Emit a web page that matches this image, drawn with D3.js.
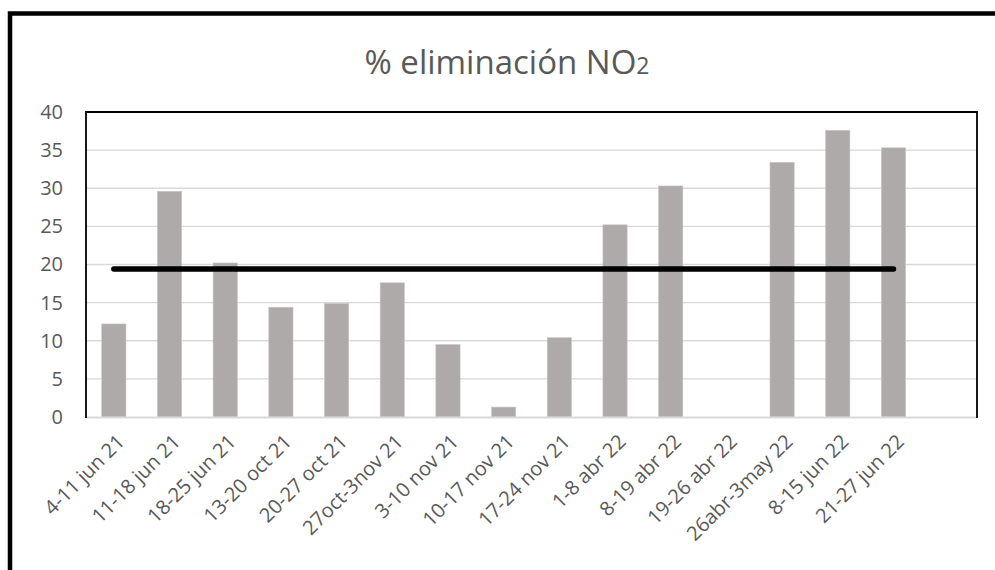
<!DOCTYPE html>
<html>
<head>
<meta charset="utf-8">
<script src="https://cdn.jsdelivr.net/npm/d3@7"></script>
<style>
  html, body { margin: 0; padding: 0; background: #fff; }
  svg { display: block; }
  text { font-family: "Open Sans", "Noto Sans", sans-serif; fill: #595959; }
</style>
</head>
<body>
<svg id="chart" width="995" height="570"></svg>
<script>
// Weekly sampling periods (the last slot is left blank)
const categories = [
  "4-11 jun 21", "11-18 jun 21", "18-25 jun 21", "13-20 oct 21", "20-27 oct 21",
  "27oct-3nov 21", "3-10 nov 21", "10-17 nov 21", "17-24 nov 21", "1-8 abr 22",
  "8-19 abr 22", "19-26 abr 22", "26abr-3may 22", "8-15 jun 22", "21-27 jun 22", ""
];
// % NO2 removal per period (null = no bar)
const removal = [12.2, 29.6, 20.2, 14.4, 14.9, 17.6, 9.5, 1.3, 10.4, 25.2, 30.3, 0, 33.4, 37.6, 35.3, null];
// Mean removal, drawn as a flat line across the measured periods
const meanRemoval = [19.4, 19.4, 19.4, 19.4, 19.4, 19.4, 19.4, 19.4, 19.4, 19.4, 19.4, 19.4, 19.4, 19.4, 19.4, null];
const yTicks = [0, 5, 10, 15, 20, 25, 30, 35, 40];

const svg = d3.select("#chart");
const plot = { left: 86, right: 977, top: 112, bottom: 417 };

// Outer chart frame (runs off the right and bottom edges)
svg.append("rect")
  .attr("x", 10).attr("y", 13.5)
  .attr("width", 1000).attr("height", 600)
  .attr("fill", "none").attr("stroke", "#000").attr("stroke-width", 4.5);

// Title
const title = svg.append("text")
  .attr("x", 507).attr("y", 74)
  .attr("text-anchor", "middle")
  .style("font-size", "33px");
title.append("tspan").text("% eliminación NO");
title.append("tspan").style("font-size", "23px").text("2");

const x = d3.scaleBand()
  .domain(categories.map((c, i) => i))
  .range([plot.left, plot.right])
  .paddingInner(0.565)
  .paddingOuter(0.2825);

const y = d3.scaleLinear().domain([0, 40]).range([plot.bottom, plot.top]);

// Horizontal gridlines
svg.append("g")
  .selectAll("line")
  .data(yTicks.filter(t => t > 0 && t < 40))
  .join("line")
  .attr("x1", plot.left).attr("x2", plot.right)
  .attr("y1", d => y(d)).attr("y2", d => y(d))
  .attr("stroke", "#d9d9d9").attr("stroke-width", 1.3);

// Y axis labels
const yAxis = d3.axisLeft(y).tickValues(yTicks).tickSize(0).tickPadding(23);
svg.append("g")
  .attr("transform", `translate(${plot.left},0)`)
  .call(yAxis)
  .call(g => g.select(".domain").remove())
  .call(g => g.selectAll("text")
    .style("font-family", '"Open Sans", sans-serif')
    .style("font-size", "20px")
    .attr("fill", "#595959"));

// Bars
svg.append("g")
  .selectAll("rect")
  .data(removal.map((v, i) => ({ i, v })).filter(d => d.v !== null && d.v > 0))
  .join("rect")
  .attr("x", d => x(d.i))
  .attr("width", x.bandwidth())
  .attr("y", d => y(d.v))
  .attr("height", d => y(0) - y(d.v))
  .attr("fill", "#aeaaaa")
  .attr("stroke", "#c9c6c6").attr("stroke-width", 0.6);

// Category axis line
svg.append("line")
  .attr("x1", plot.left).attr("x2", plot.right)
  .attr("y1", plot.bottom + 0.5).attr("y2", plot.bottom + 0.5)
  .attr("stroke", "#d9d9d9").attr("stroke-width", 2);

// Plot-area frame: left, top and right edges
svg.append("path")
  .attr("d", `M${plot.left},${plot.bottom + 1}V${plot.top}H${plot.right}V${plot.bottom + 1}`)
  .attr("fill", "none").attr("stroke", "#000").attr("stroke-width", 1.8);

// Mean line
const line = d3.line()
  .defined(d => d.v !== null)
  .x(d => x(d.i) + x.bandwidth() / 2)
  .y(d => y(d.v));
svg.append("path")
  .datum(meanRemoval.map((v, i) => ({ i, v })))
  .attr("d", line)
  .attr("fill", "none").attr("stroke", "#000")
  .attr("stroke-width", 5.5).attr("stroke-linecap", "round");

// Rotated category labels
svg.append("g")
  .selectAll("text")
  .data(categories.map((c, i) => ({ c, i })).filter(d => d.c))
  .join("text")
  .attr("transform", d => `translate(${x(d.i) + x.bandwidth() / 2 + 7},${438}) rotate(-45)`)
  .attr("text-anchor", "end")
  .attr("dy", "0.35em")
  .style("font-size", "20px")
  .text(d => d.c);
</script>
</body>
</html>
